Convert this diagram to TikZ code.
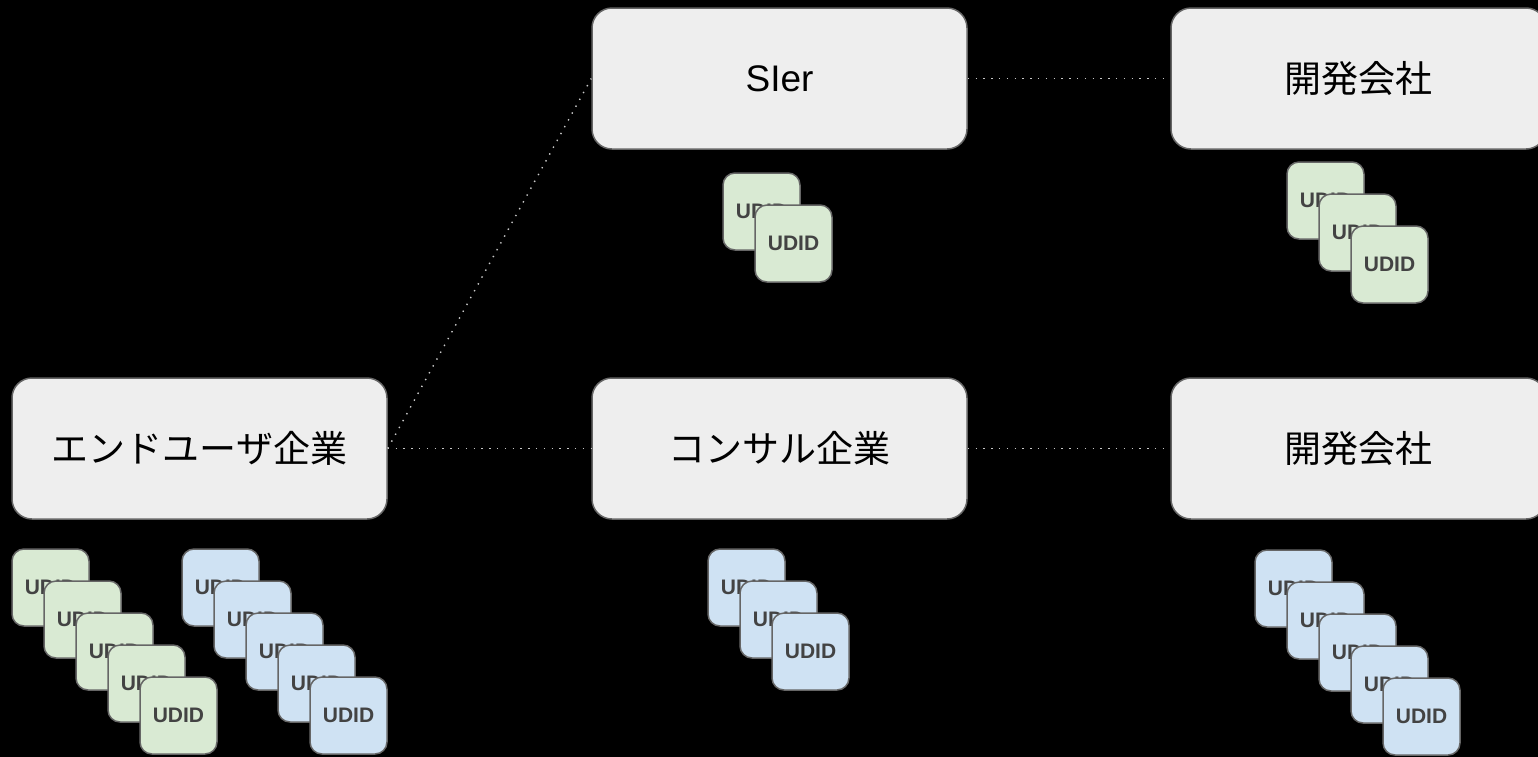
\documentclass[tikz,border=0pt]{standalone}
\usepackage{fontspec}
\setmainfont{Liberation Sans}
\newfontfamily\jp{Noto Sans CJK JP}
\definecolor{firmfill}{HTML}{EEEEEE}
\definecolor{boxline}{HTML}{666666}
\definecolor{udgreen}{HTML}{D9EAD3}
\definecolor{udblue}{HTML}{CFE2F3}
\definecolor{udtext}{HTML}{434343}
\definecolor{linkgray}{HTML}{C8C8C8}

\begin{document}
\begin{tikzpicture}[x=1pt,y=-1pt,
    firm/.style={draw=boxline,fill=firmfill,rounded corners=20pt,line width=1.5pt,
      minimum width=375pt,minimum height=141pt,inner sep=0pt,font=\fontsize{37}{40}\selectfont},
    udid/.style={draw=boxline,rounded corners=12pt,line width=1.5pt,minimum size=77pt,
      inner sep=0pt,text=udtext,font=\fontsize{21}{24}\selectfont\bfseries},
    link/.style={draw=linkgray,line width=1.4pt,dash pattern=on 1.4pt off 6.4pt}]
    \useasboundingbox (0,0) rectangle (1538,756); \fill[black] (-10,-10) rectangle (1548,766);

    \node[firm] (user) at (199.5,448.5) {\jp エンドユーザ企業};
    \node[firm] (sier) at (779.5,78.5) {SIer};
    \node[firm] (consul) at (779.5,448.5) {\jp コンサル企業};
    \node[firm] (devA) at (1358.5,78.5) {\jp 開発会社};
    \node[firm] (devB) at (1358.5,448.5) {\jp 開発会社};

    \draw[link] (user.east) -- (sier.west); \draw[link] (user.east) -- (consul.west);
    \draw[link] (sier.east) -- (devA.west); \draw[link] (consul.east) -- (devB.west);

    \foreach \i in {0,...,4} \node[udid,fill=udgreen] (ug\i) at ({50.5+32*\i},{587.5+32*\i}) {UDID};
    \foreach \i in {0,...,4} \node[udid,fill=udblue] (ub\i) at ({220.5+32*\i},{587.5+32*\i}) {UDID};
    \foreach \i in {0,1} \node[udid,fill=udgreen] (s\i) at ({761.5+32*\i},{211.5+32*\i}) {UDID};
    \foreach \i in {0,...,2} \node[udid,fill=udgreen] (da\i) at ({1325.5+32*\i},{200.5+32*\i}) {UDID};
    \foreach \i in {0,...,2} \node[udid,fill=udblue] (c\i) at ({746.5+32*\i},{587.5+32*\i}) {UDID};
    \foreach \i in {0,...,4} \node[udid,fill=udblue] (db\i) at ({1293.5+32*\i},{588.5+32*\i}) {UDID};
\end{tikzpicture}
\end{document}
